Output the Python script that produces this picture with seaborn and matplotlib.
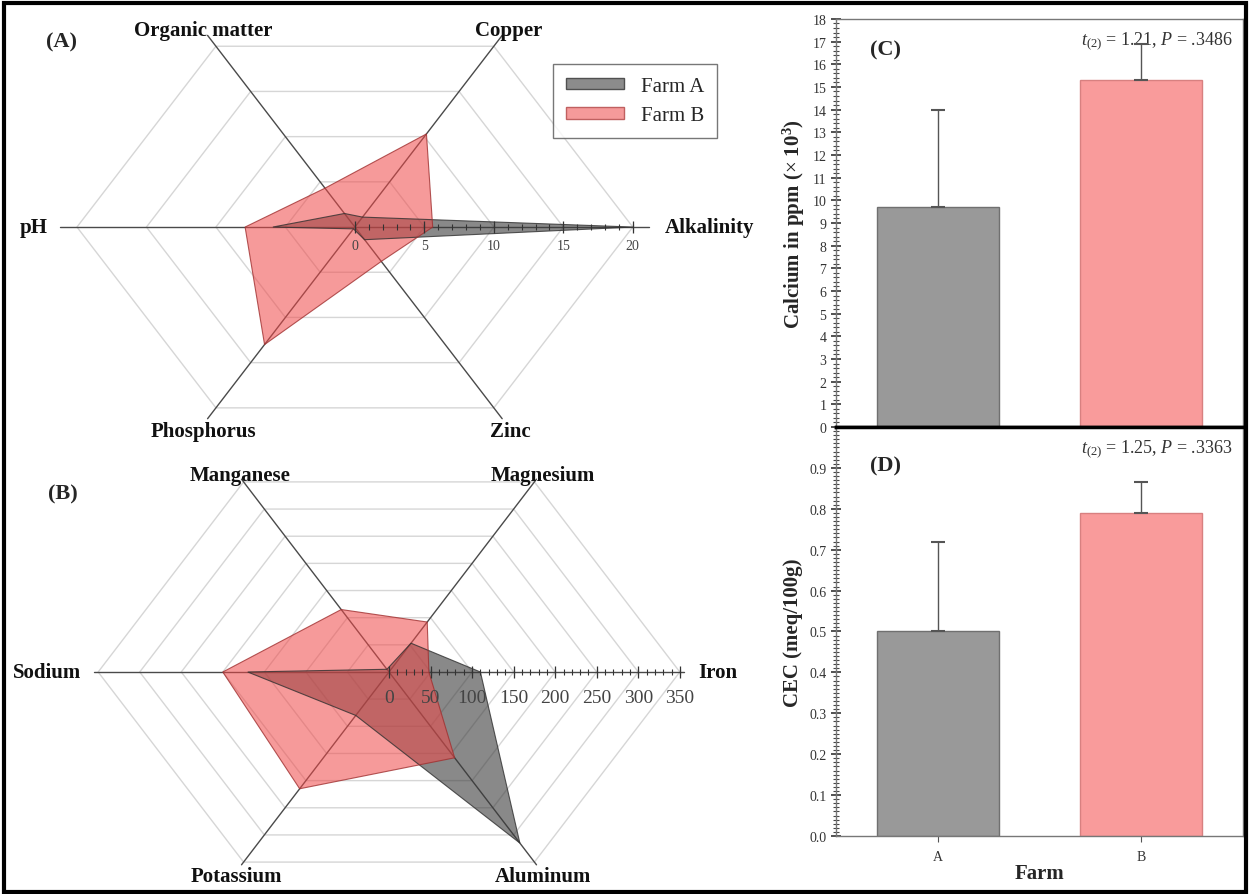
import numpy as np
import matplotlib
matplotlib.use('Agg')
import matplotlib.pyplot as plt
import seaborn as sns
from matplotlib.patches import Rectangle, Patch
from matplotlib.ticker import MultipleLocator

sns.set_style('white')
plt.rcParams['font.family'] = ['Liberation Serif', 'DejaVu Serif']
plt.rcParams['mathtext.fontset'] = 'custom'
plt.rcParams['mathtext.rm'] = 'Liberation Serif'
plt.rcParams['mathtext.it'] = 'Liberation Serif:italic'
plt.rcParams['mathtext.bf'] = 'Liberation Serif:bold'

# ---- data ----
# radar (A): axes counter-clockwise starting at the right
soil_a_labels = ['Alkalinity', 'Copper', 'Organic matter', 'pH', 'Phosphorus', 'Zinc']
soil_a_farm_a = [20.0, 1.1, 1.5, 5.9, 0.2, 1.4]
soil_a_farm_b = [5.6, 10.3, 4.3, 7.9, 13.0, 3.8]

# radar (B)
soil_b_labels = ['Iron', 'Magnesium', 'Manganese', 'Sodium', 'Potassium', 'Aluminum']
soil_b_farm_a = [110, 53, 5, 170, 80, 315]
soil_b_farm_b = [48, 92, 115, 200, 215, 158]

farms = ['A', 'B']
calcium_mean = [9.7, 15.3]
calcium_err = [4.3, 1.6]
cec_mean = [0.50, 0.79]
cec_err = [0.22, 0.075]

gray_fill = '#3a3a3a'
pink_fill = '#f04848'
bar_colors = ['#999999', '#f99b9b']


def radar(ax, labels, a_vals, b_vals, rmax, rings, tick_major, tick_minor,
          label_pos, tick_fs, tick_off):
    ang = np.deg2rad(np.arange(len(labels)) * 60.0)
    # hexagon grid
    for r in rings:
        hx = np.append(r * np.cos(ang), r * np.cos(ang[0]))
        hy = np.append(r * np.sin(ang), r * np.sin(ang[0]))
        ax.plot(hx, hy, color='#d6d6d6', lw=1, zorder=1)
    # spokes
    for t in ang:
        ax.plot([0, rmax * np.cos(t)], [0, rmax * np.sin(t)], color='#4a4a4a', lw=1, zorder=2)
    # farm polygons
    for vals, fc, ec, al in [(a_vals, gray_fill, '#303030', 0.6), (b_vals, pink_fill, '#a03030', 0.55)]:
        v = np.array(vals, dtype=float)
        ax.fill(v * np.cos(ang), v * np.sin(ang), facecolor=fc, alpha=al, edgecolor='none', zorder=3)
        ax.fill(v * np.cos(ang), v * np.sin(ang), facecolor='none', edgecolor=ec, lw=0.8, alpha=0.8, zorder=4)
    # scale on first spoke
    minor = np.arange(0, rings[-1] + 1e-9, tick_minor)
    ax.plot(minor, np.zeros_like(minor), ls='none', marker='|', ms=5, color='#333333', mew=0.8, zorder=5)
    major = np.arange(0, rings[-1] + 1e-9, tick_major)
    ax.plot(major, np.zeros_like(major), ls='none', marker='|', ms=8, color='#333333', mew=0.9, zorder=5)
    for m in major:
        ax.text(m, -tick_off, f'{m:g}', ha='center', va='center', fontsize=tick_fs, color='#444444', zorder=6)
    for lab, (x, y) in zip(labels, label_pos):
        ax.text(x, y, lab, ha='center', va='center', fontsize=15, fontweight='bold', color='#111111')
    ax.set_axis_off()


fig = plt.figure(figsize=(12.5, 8.95), dpi=100)

# ---- (A) ----
axA = fig.add_axes([0.0171, 0.5061, 0.5336, 0.4782])
axA.set_xlim(-24, 24)
axA.set_ylim(-20.5, 20.5)
radar(axA, soil_a_labels, soil_a_farm_a, soil_a_farm_b, 21.2, [5, 10, 15, 20], 5, 1,
      [(25.5, 0), (11.1, 18.9), (-10.9, 18.9), (-23.1, 0), (-10.9, -19.5), (11.2, -19.5)],
      10, 1.8)
axA.text(-21.1, 17.8, '(A)', ha='center', va='center', fontsize=16, fontweight='bold')
handles = [Patch(facecolor='#8c8c8c', edgecolor='#505050', label='Farm A'),
           Patch(facecolor='#f59a9a', edgecolor='#c06060', label='Farm B')]
fig.legend(handles=handles, loc='upper right', bbox_to_anchor=(0.5816, 0.9385),
           fontsize=15, frameon=True, fancybox=False, edgecolor='#555555',
           handlelength=2.8, handleheight=0.45, borderpad=0.6)

# ---- (B) ----
axB = fig.add_axes([0.032, 0.0028, 0.5584, 0.4905])
axB.set_xlim(-420, 420)
axB.set_ylim(-350, 350)
radar(axB, soil_b_labels, soil_b_farm_a, soil_b_farm_b, 355, [50, 100, 150, 200, 250, 300, 350], 50, 10,
      [(396, 0), (185, 314), (-179, 314), (-412, 0), (-184, -325), (185, -325)],
      14, 40)
axB.text(-393, 284, '(B)', ha='center', va='center', fontsize=16, fontweight='bold')


# ---- bar panels ----
def bar_panel(ax, means, errs):
    sns.barplot(x=farms, y=means, hue=farms, palette=bar_colors, width=0.6,
                legend=False, ax=ax, linewidth=1, saturation=1)
    for p, ec in zip(ax.patches, ['#707070', '#d88080']):
        p.set_edgecolor(ec)
    ax.errorbar([0, 1], means, yerr=[[0, 0], errs], fmt='none', ecolor='#555555',
                elinewidth=1, capsize=5, capthick=1.5, zorder=5)
    ax.set_xlim(-0.5, 1.5)
    for s in ax.spines.values():
        s.set_color('#777777')
        s.set_linewidth(1)
    ax.tick_params(axis='y', which='major', direction='inout', length=7, width=1.2,
                   labelsize=10, labelcolor='#333333', color='#333333', left=True)
    ax.tick_params(axis='y', which='minor', direction='inout', length=4, width=0.8,
                   color='#444444', left=True)


axC = fig.add_axes([0.6688, 0.5218, 0.3256, 0.4559])
bar_panel(axC, calcium_mean, calcium_err)
axC.set_ylim(0, 18)
axC.yaxis.set_major_locator(MultipleLocator(1))
axC.yaxis.set_minor_locator(MultipleLocator(0.2))
axC.set_xticks([])
axC.spines['bottom'].set_color('black')
axC.spines['bottom'].set_linewidth(2.5)
axC.set_ylabel(r'Calcium in ppm ($\times$ 10$^{\mathbf{3}}$)', fontsize=15, fontweight='bold', labelpad=4)
axC.text(0.975, 0.975, r'$\mathit{t}_{(2)}$ = 1.21, $\mathit{P}$ = .3486', transform=axC.transAxes,
         ha='right', va='top', fontsize=13, color='#333333')
axC.text(0.083, 0.924, '(C)', transform=axC.transAxes, ha='left', va='center',
         fontsize=16, fontweight='bold')

axD = fig.add_axes([0.6688, 0.0648, 0.3256, 0.457])
bar_panel(axD, cec_mean, cec_err)
axD.set_ylim(0, 1.0)
axD.set_yticks(np.arange(0, 0.91, 0.1))
axD.yaxis.set_major_formatter(matplotlib.ticker.FormatStrFormatter('%.1f'))
axD.yaxis.set_minor_locator(MultipleLocator(0.01))
axD.set_xticks([0, 1])
axD.set_xticklabels(farms)
axD.tick_params(axis='x', direction='out', length=4, color='#555555', labelsize=10,
                labelcolor='#333333', bottom=True, pad=6)
axD.spines['top'].set_color('black')
axD.spines['top'].set_linewidth(2.5)
axD.set_xlabel('Farm', fontsize=15, fontweight='bold', labelpad=0)
axD.set_ylabel('CEC (meq/100g)', fontsize=15, fontweight='bold', labelpad=4)
axD.text(0.975, 0.975, r'$\mathit{t}_{(2)}$ = 1.25, $\mathit{P}$ = .3363', transform=axD.transAxes,
         ha='right', va='top', fontsize=13, color='#333333')
axD.text(0.083, 0.905, '(D)', transform=axD.transAxes, ha='left', va='center',
         fontsize=16, fontweight='bold')

# outer frame
fig.add_artist(Rectangle((0.003, 0.002), 0.994, 0.994, transform=fig.transFigure,
                         fill=False, lw=3, edgecolor='black'))

fig.savefig('out.png', dpi=100)
